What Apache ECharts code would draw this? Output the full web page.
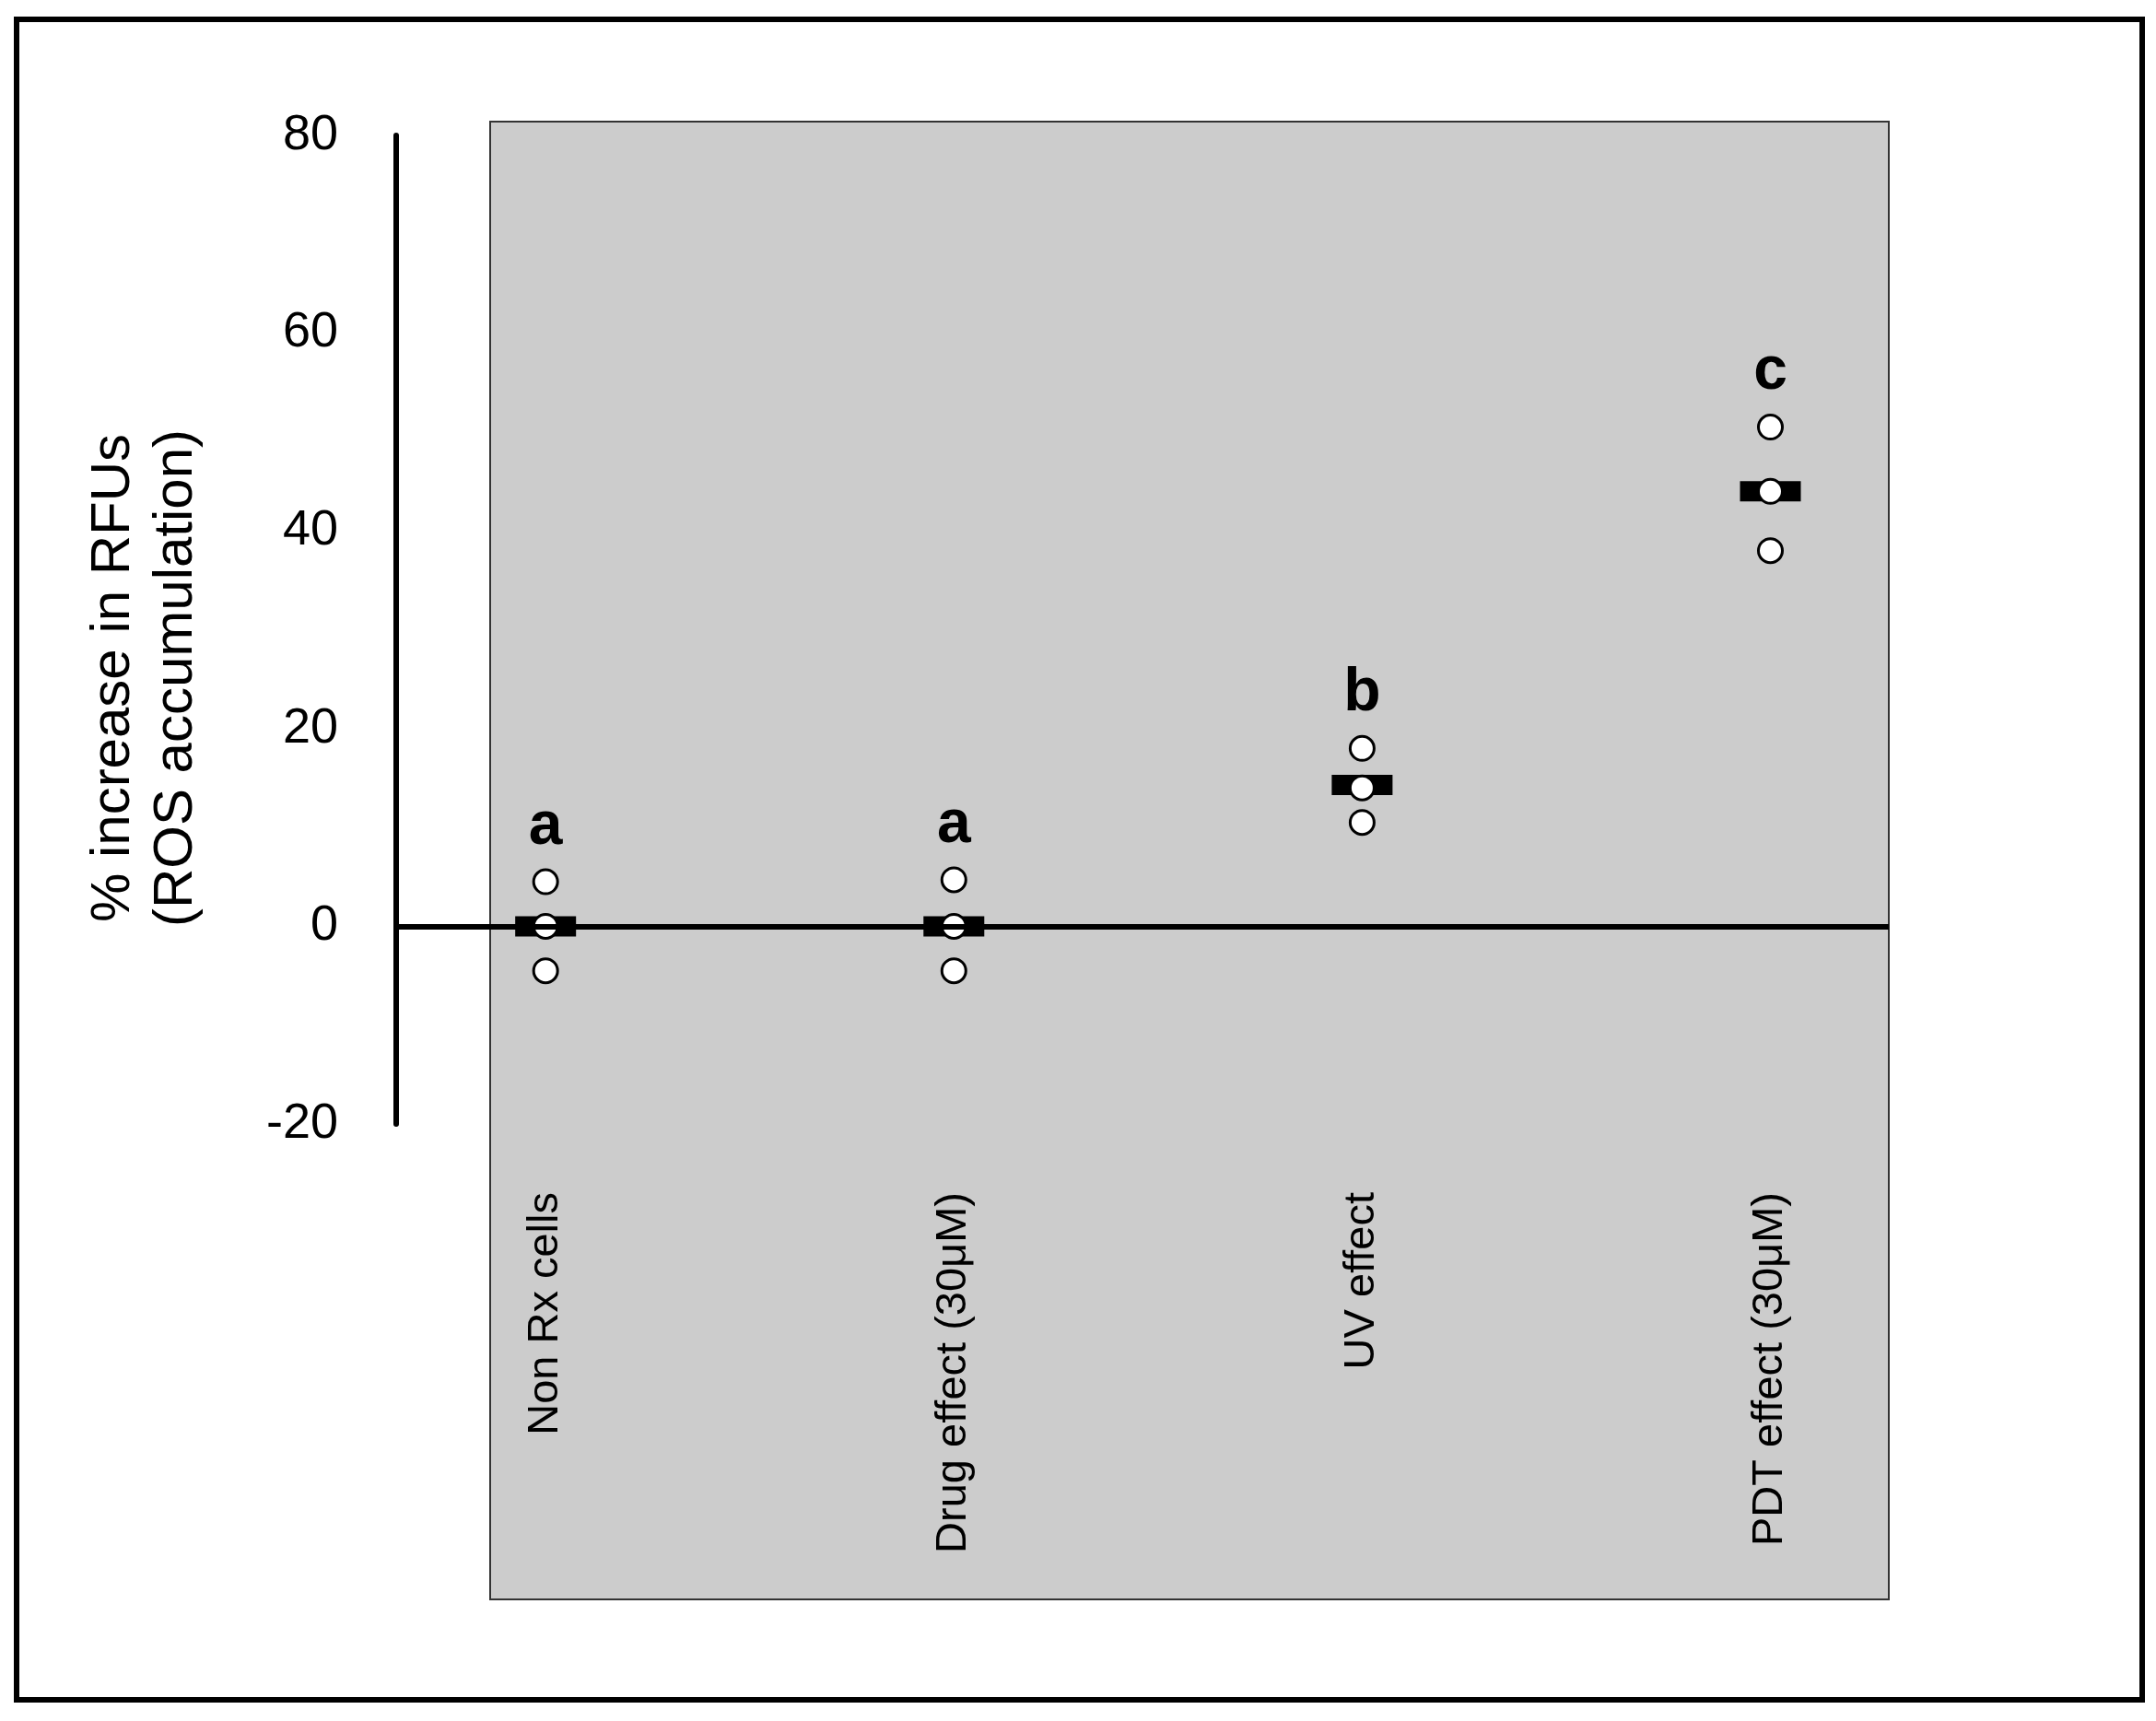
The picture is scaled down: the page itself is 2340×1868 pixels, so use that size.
<!DOCTYPE html>
<html>
<head>
<meta charset="utf-8">
<script src="https://cdn.jsdelivr.net/npm/echarts@6/dist/echarts.min.js"></script>
<style>html,body{margin:0;padding:0;background:#fff}#main{width:2340px;height:1868px}</style>
</head>
<body>
<div id="main"></div>
<script>
// 分组与数据
var categories = ['Non Rx cells', 'Drug effect (30μM)', 'UV effect', 'PDT effect (30μM)'];
var groupPos = [1, 2, 3, 4];
var replicates = [
	[4.5, 0, -4.5],
	[4.7, 0, -4.5],
	[18, 14, 10.5],
	[50.5, 44, 38]
];
var means = [0, 0, 14.3, 44];
var letters = ['a', 'a', 'b', 'c'];
var yTicks = [-20, 0, 20, 40, 60, 80];

var pointData = [], meanData = [];
replicates.forEach(function (vals, i) {
	meanData.push([groupPos[i], means[i]]);
	var top = Math.max.apply(null, vals);
	vals.forEach(function (v) {
		var item = { value: [groupPos[i], v] };
		if (v === top) {
			item.label = { show: true, formatter: letters[i] };
		}
		pointData.push(item);
	});
});

var myChart = echarts.init(document.getElementById('main'));
var option = {
	backgroundColor: '#fff',
	animation: false,
	graphic: [
		{ type: 'rect', shape: { x: 18, y: 21, width: 2307, height: 1824 }, style: { fill: 'none', stroke: '#000', lineWidth: 6 }, z: -10 },
		{ type: 'rect', shape: { x: 532, y: 132, width: 1518, height: 1604 }, style: { fill: '#cccccc', stroke: '#333', lineWidth: 2 }, z: -5 }
	],
	grid: { left: 430, right: 290, top: 147, bottom: 648 },
	xAxis: {
		type: 'value', min: 0.634, max: 4.29,
		splitLine: { show: false }, axisLine: { show: false }, axisTick: { show: false },
		axisLabel: {
			show: true, rotate: 90, margin: 74, fontSize: 47, color: '#000',
			fontFamily: 'Liberation Sans, Arial',
			customValues: groupPos,
			formatter: function (v) { return categories[groupPos.indexOf(v)] || ''; }
		}
	},
	yAxis: {
		type: 'value', min: -20, max: 80, interval: 20,
		name: '% increase in RFUs\n(ROS accumulation)',
		nameLocation: 'middle', nameGap: 205, nameRotate: 90,
		nameTextStyle: { fontSize: 60, color: '#000', fontFamily: 'Liberation Sans, Arial', lineHeight: 68, padding: [0, 105, 0, 0] },
		splitLine: { show: false }, axisTick: { show: false },
		axisLine: { show: true, lineStyle: { color: '#000', width: 6 } },
		axisLabel: { fontSize: 54, color: '#000', margin: 63, fontFamily: 'Liberation Sans, Arial' }
	},
	series: [{
		type: 'scatter',
		data: meanData,
		symbol: 'rect', symbolSize: [66, 22],
		itemStyle: { color: '#000', opacity: 1 },
		z: 2,
		markLine: {
			silent: true, symbol: 'none', label: { show: false },
			lineStyle: { color: '#000', width: 6, type: 'solid' },
			data: [{ yAxis: 0 }]
		}
	}, {
		type: 'scatter',
		data: pointData,
		symbol: 'circle', symbolSize: 26,
		itemStyle: { color: '#fff', borderColor: '#000', borderWidth: 3, opacity: 1 },
		label: { show: false, position: 'top', distance: 12, fontSize: 66, fontWeight: 'bold', color: '#000', fontFamily: 'Liberation Sans, Arial' },
		z: 3
	}]
};
myChart.setOption(option);
</script>
</body>
</html>
